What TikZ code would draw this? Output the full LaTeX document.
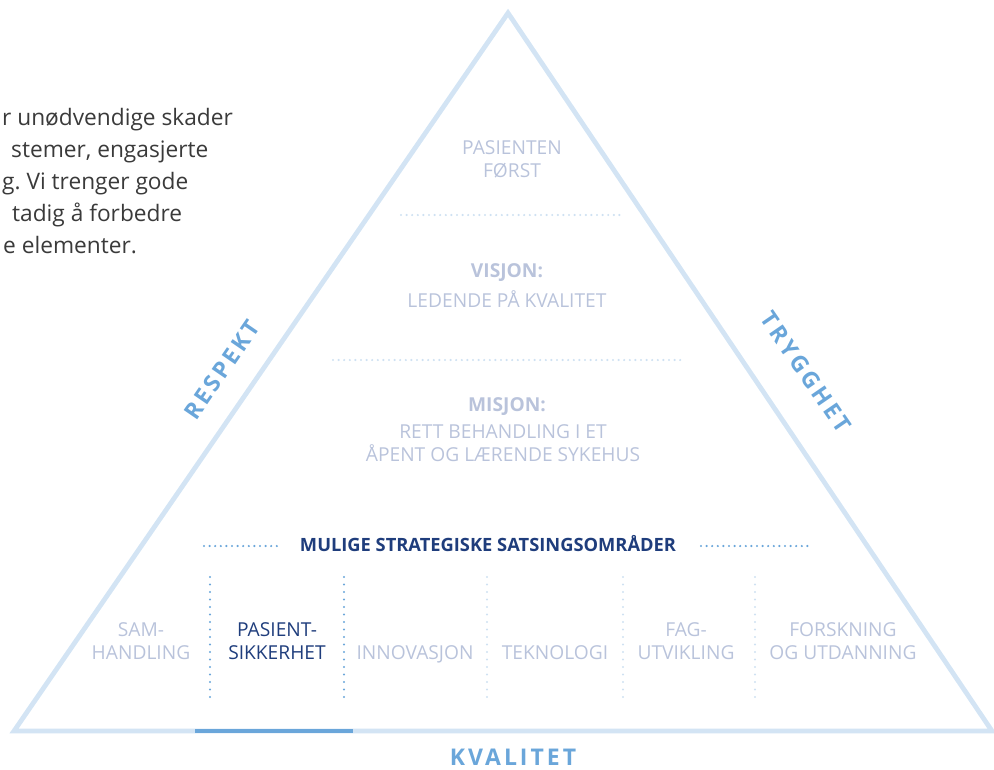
\documentclass[tikz,border=0pt]{standalone}
\usepackage{fontspec}
\setmainfont{Open Sans}
\newfontfamily\spacedfont[LetterSpace=13]{Open Sans Bold}
\frenchspacing
\definecolor{tri}{HTML}{D3E4F4}
\definecolor{midblue}{HTML}{6AA6DA}
\definecolor{darkblue}{HTML}{1F3D7C}
\definecolor{lblgray}{HTML}{B9C3DB}
\definecolor{bodytext}{HTML}{3A3A3A}
\definecolor{dotlight}{HTML}{CFE1F2}
\tikzset{
  lbl/.style={font=\fontsize{19.2}{23}\selectfont, text=lblgray, align=center, inner sep=0pt},
  lblb/.style={lbl, font=\fontsize{19.2}{23}\selectfont\bfseries},
  side/.style={font=\fontsize{23}{26}\selectfont\spacedfont, text=midblue, inner sep=0pt},
  body/.style={font=\fontsize{22.7}{26}\selectfont\frenchspacing, text=bodytext, anchor=base west, inner sep=0pt},
  hdots/.style={line width=2.4pt, line cap=round, dash pattern=on 0pt off 5.6pt},
  vdots/.style={line width=2.4pt, line cap=round, dash pattern=on 0pt off 7.5pt},
}
\begin{document}
\begin{tikzpicture}[x=1pt,y=-1pt]
\useasboundingbox (0,0) rectangle (994,769);
% triangle
\coordinate (A) at (508,13);
\coordinate (B) at (14,731);
\coordinate (C) at (992,731);
\draw[tri, line width=4.8pt, line join=miter] (B) -- (A) -- (C) -- cycle;
\coordinate (h1) at (195,731);
\coordinate (h2) at (353,731);
\draw[midblue, line width=4.8pt] (h1) -- (h2);
% body text
\node[body] (t1) at (2,125) {r unødvendige skader};
\node[body] (t2) at (11,157) {stemer, engasjerte};
\node[body] (t3) at (2,189) {g. Vi trenger gode};
\node[body] (t4) at (12,221) {tadig å forbedre};
\node[body] (t5) at (3,253) {e elementer.};
% top labels
\node[lbl] (pf) at (512,159) {PASIENTEN\\FØRST};
\coordinate (d1a) at (401,215);
\coordinate (d1b) at (621,215);
\draw[dotlight, hdots] (d1a) -- (d1b);
\node[lblb] (vis) at (507,273) {VISJON:};
\node[lbl] (visb) at (507,299) {LEDENDE PÅ KVALITET};
\coordinate (d2a) at (333,360);
\coordinate (d2b) at (685,360);
\draw[dotlight, hdots] (d2a) -- (d2b);
\node[lblb] (mis) at (507,407) {MISJON:};
\node[lbl] (misb) at (503,443) {RETT BEHANDLING I ET\\ÅPENT OG LÆRENDE SYKEHUS};
% strategic header
\node[font=\fontsize{18.3}{22}\selectfont\bfseries, text=darkblue, inner sep=0pt] (msh) at (488,544) {MULIGE STRATEGISKE SATSINGSOMRÅDER};
\coordinate (d3a) at (204,546);
\coordinate (d3b) at (278,546);
\coordinate (d4a) at (701,546);
\coordinate (d4b) at (812,546);
\draw[midblue, hdots] (d3a) -- (d3b);
\draw[midblue, hdots] (d4a) -- (d4b);
% vertical separators
\foreach \x/\c in {210/midblue,344/midblue,487/dotlight,623/dotlight,755/dotlight}{
  \coordinate (va\x) at (\x,577);
  \coordinate (vb\x) at (\x,703);
  \draw[\c, vdots] (va\x) -- (vb\x);
}
% area labels
\node[lbl] (s1) at (141,641) {SAM-\\HANDLING};
\node[lbl, text=darkblue] (s2) at (277,641) {PASIENT-\\SIKKERHET};
\node[lbl, anchor=base] (s3) at (415,659) {INNOVASJON};
\node[lbl, anchor=base] (s4) at (555,659) {TEKNOLOGI};
\node[lbl] (s5) at (686,641) {FAG-\\UTVIKLING};
\node[lbl] (s6) at (843,641) {FORSKNING\\OG UTDANNING};
% side words
\node[side] (kv) at (513,757) {KVALITET};
\node[side, rotate=55.5] (re) at (222,370) {RESPEKT};
\node[side, rotate=-55.5] (tr) at (806,372) {TRYGGHET};
\end{tikzpicture}
\end{document}
